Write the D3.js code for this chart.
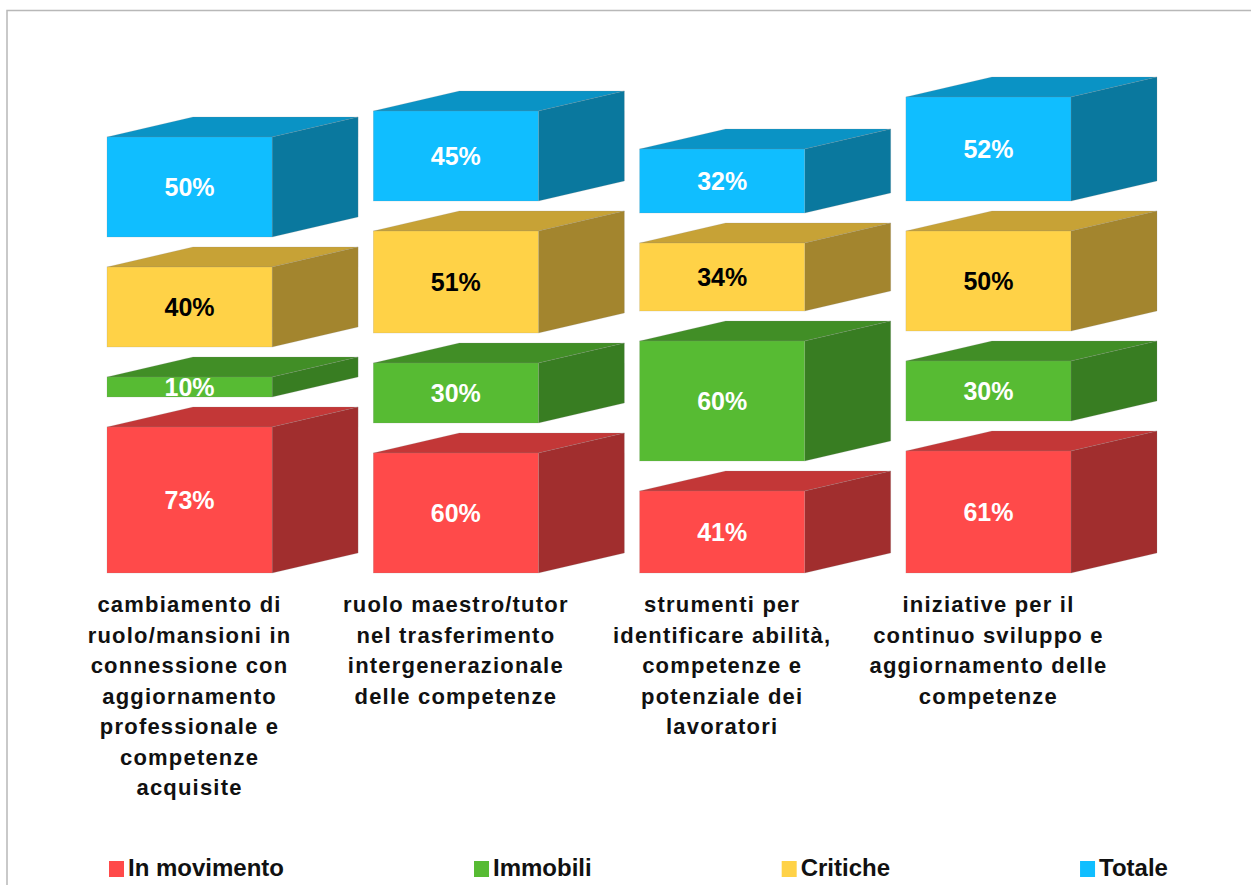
<!DOCTYPE html>
<html>
<head>
<meta charset="utf-8">
<script src="https://cdn.jsdelivr.net/npm/d3@7"></script>
<style>
  html, body { margin: 0; padding: 0; background: #fff; }
  svg { display: block; font-family: "Liberation Sans", Arial, sans-serif; }
</style>
</head>
<body>
<svg id="chart" width="1251" height="885"></svg>
<script>
// Categories (each label split into its wrapped lines)
const categories = [
  ["cambiamento di", "ruolo/mansioni in", "connessione con", "aggiornamento", "professionale e", "competenze", "acquisite"],
  ["ruolo maestro/tutor", "nel trasferimento", "intergenerazionale", "delle competenze"],
  ["strumenti per", "identificare abilità,", "competenze e", "potenziale dei", "lavoratori"],
  ["iniziative per il", "continuo sviluppo e", "aggiornamento delle", "competenze"]
];
const categoryKeys = ["c1", "c2", "c3", "c4"];

// Series, stacked bottom to top
const seriesNames = ["In movimento", "Immobili", "Critiche", "Totale"];
const inMovimento = [73, 60, 41, 61];
const immobili    = [10, 30, 60, 30];
const critiche    = [40, 51, 34, 50];
const totale      = [50, 45, 32, 52];
const seriesValues = [inMovimento, immobili, critiche, totale];

// Face colours per series: front, top, side
const palette = [
  { front: "#FF4A4A", top: "#C33737", side: "#A12E2E", label: "#ffffff" },
  { front: "#57BB33", top: "#418E26", side: "#387D22", label: "#ffffff" },
  { front: "#FFD247", top: "#C7A236", side: "#A3852E", label: "#000000" },
  { front: "#10BEFF", top: "#0A93C5", side: "#0A789E", label: "#ffffff" }
];

const svg = d3.select("#chart");

// Chart frame (open to the right and bottom)
svg.append("rect")
  .attr("x", 7).attr("y", 10.5)
  .attr("width", 1300).attr("height", 1000)
  .attr("fill", "none")
  .attr("stroke", "#b8b8b8")
  .attr("stroke-width", 1.5);

const baseline = 573;
const x = d3.scaleBand()
  .domain(categoryKeys)
  .range([107, 1071])
  .paddingInner(0.38)
  .paddingOuter(0);

// 2px per percentage point
const y = d3.scaleLinear().domain([0, 100]).range([baseline, baseline - 200]);

const gap = 15;             // spacing between stacked blocks, in value units
const depthX = 86, depthY = -20;

// Build stacked block geometry
const blocks = [];
categoryKeys.forEach((key, ci) => {
  let cum = 0;
  seriesValues.forEach((vals, si) => {
    const v = vals[ci];
    blocks.push({ key, ci, si, v, y0: cum, y1: cum + v });
    cum += v + gap;
  });
});

const g = svg.append("g");

const block = g.selectAll("g.block")
  .data(blocks)
  .join("g")
  .attr("class", "block");

block.each(function(d) {
  const sel = d3.select(this);
  const x0 = x(d.key), x1 = x0 + x.bandwidth();
  const yt = y(d.y1), yb = y(d.y0);
  const c = palette[d.si];
  const edge = "rgba(140,140,140,0.3)";
  // top face
  sel.append("path")
    .attr("d", `M${x0},${yt}L${x0 + depthX},${yt + depthY}L${x1 + depthX},${yt + depthY}L${x1},${yt}Z`)
    .attr("fill", c.top).attr("stroke", edge).attr("stroke-width", 0.6);
  // side face
  sel.append("path")
    .attr("d", `M${x1},${yt}L${x1 + depthX},${yt + depthY}L${x1 + depthX},${yb + depthY}L${x1},${yb}Z`)
    .attr("fill", c.side).attr("stroke", edge).attr("stroke-width", 0.6);
  // front face
  sel.append("rect")
    .attr("x", x0).attr("y", yt)
    .attr("width", x1 - x0).attr("height", yb - yt)
    .attr("fill", c.front).attr("stroke", edge).attr("stroke-width", 0.6);
  // value label
  sel.append("text")
    .attr("x", (x0 + x1) / 2)
    .attr("y", (yt + yb) / 2)
    .attr("dy", "0.36em")
    .attr("text-anchor", "middle")
    .attr("font-size", 25)
    .attr("font-weight", "bold")
    .attr("fill", c.label)
    .text(d.v + "%");
});

// Category labels
const catG = svg.append("g");
categoryKeys.forEach((key, ci) => {
  const cx = x(key) + x.bandwidth() / 2;
  const t = catG.append("text")
    .attr("x", cx)
    .attr("y", 612)
    .attr("text-anchor", "middle")
    .attr("font-size", 22)
    .attr("font-weight", "bold")
    .attr("letter-spacing", 1.2)
    .attr("fill", "#111");
  categories[ci].forEach((line, li) => {
    t.append("tspan")
      .attr("x", cx)
      .attr("dy", li === 0 ? 0 : 30.5)
      .text(line);
  });
});

// Legend: items laid out with equal spacing between them
const legend = svg.append("g");
let lx = 109;
const legendGap = 190;
seriesNames.forEach((name, si) => {
  const item = legend.append("g").attr("transform", `translate(${lx},0)`);
  item.append("rect")
    .attr("x", 0).attr("y", 861)
    .attr("width", 15).attr("height", 16)
    .attr("fill", palette[si].front);
  const t = item.append("text")
    .attr("x", 19).attr("y", 876)
    .attr("font-size", 24)
    .attr("font-weight", "bold")
    .attr("fill", "#111")
    .text(name);
  const w = t.node().getComputedTextLength();
  lx += 19 + w + legendGap;
});
</script>
</body>
</html>
